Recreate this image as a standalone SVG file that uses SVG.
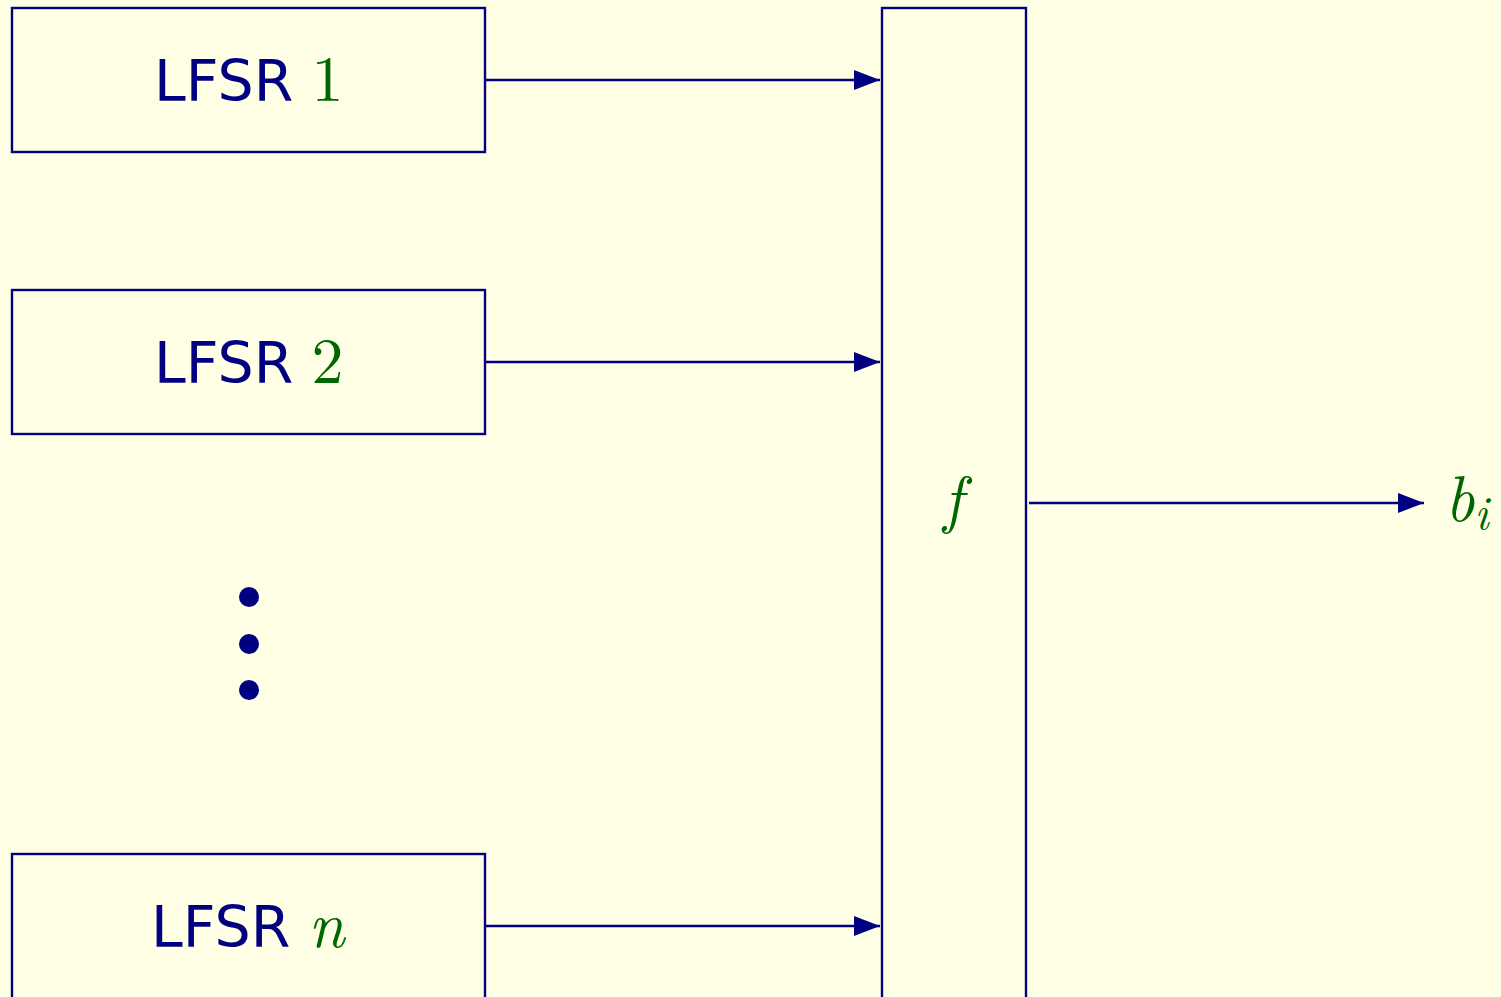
<svg xmlns="http://www.w3.org/2000/svg" width="1501" height="997" viewBox="0 0 1501 997">
<style>
.box{fill:none;stroke:#000080;stroke-width:2.4}
.con{stroke:#000080;stroke-width:2.4;fill:none}
.t{font-family:"DejaVu Sans","Liberation Sans",sans-serif;font-size:57px;fill:#000080}
.m{font-family:"Latin Modern Roman","Latin Modern Math","DejaVu Serif","Liberation Serif",serif;fill:#006600;font-size:64px}
.mi{font-style:italic}
</style>
<defs>
<marker id="a" viewBox="0 0 26 20" markerWidth="26" markerHeight="20" refX="26" refY="10" orient="auto" markerUnits="userSpaceOnUse">
<path d="M0,0 L26,10 L0,20 Z" fill="#000080"/>
</marker>
</defs>
<rect width="1501" height="997" fill="#FFFFE6"/>
<g id="lfsr1">
<rect class="box" x="12" y="8" width="473" height="144"/>
<text class="t" x="154" y="101">LFSR <tspan class="m">1</tspan></text>
</g>
<g id="lfsr2">
<rect class="box" x="12" y="290" width="473" height="144"/>
<text class="t" x="154" y="383">LFSR <tspan class="m">2</tspan></text>
</g>
<g id="dots" fill="#000080">
<circle cx="249" cy="597" r="10"/>
<circle cx="249" cy="644" r="10"/>
<circle cx="249" cy="690" r="10"/>
</g>
<g id="lfsrn">
<rect class="box" x="12" y="854" width="473" height="160"/>
<text class="t" x="151" y="947">LFSR <tspan class="m mi">n</tspan></text>
</g>
<g id="f">
<rect class="box" x="882" y="8" width="144" height="1010"/>
<text class="m mi" x="953" y="521" text-anchor="middle">f</text>
</g>
<g id="out">
<text class="m mi" x="1445" y="521">b<tspan font-size="46" dy="8">i</tspan></text>
</g>
<g id="connectors">
<line class="con" x1="485" y1="80" x2="880" y2="80" marker-end="url(#a)"/>
<line class="con" x1="485" y1="362" x2="880" y2="362" marker-end="url(#a)"/>
<line class="con" x1="485" y1="926" x2="880" y2="926" marker-end="url(#a)"/>
<line class="con" x1="1029" y1="503" x2="1424" y2="503" marker-end="url(#a)"/>
</g>
</svg>
